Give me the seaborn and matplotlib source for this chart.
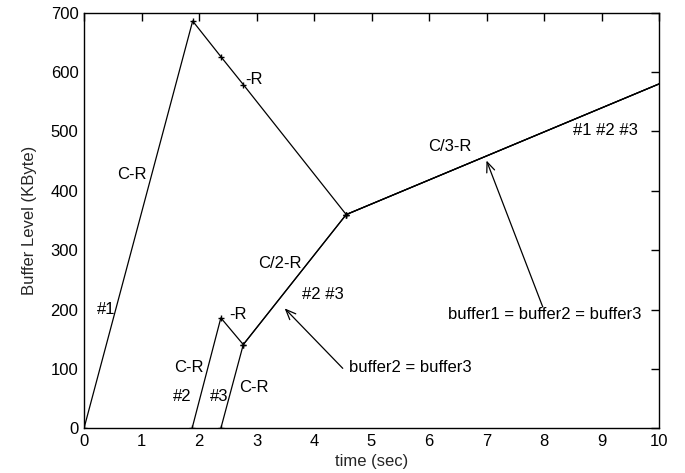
import matplotlib
matplotlib.use("Agg")
import matplotlib.pyplot as plt
import seaborn as sns
import pandas as pd

# ---- data ----
t1 = [0.0, 1.89, 2.38, 2.77, 4.56, 10.0]
b1 = [0, 686, 626, 579, 360, 580]
t2 = [1.88, 2.38, 2.77, 4.56, 10.0]
b2 = [0, 186, 141, 360, 580]
t3 = [2.38, 2.77, 4.56, 10.0]
b3 = [0, 141, 360, 580]

x_ticks = [0, 1, 2, 3, 4, 5, 6, 7, 8, 9, 10]
y_ticks = [0, 100, 200, 300, 400, 500, 600, 700]

labels_text = ["C-R", "#1", "-R", "C/2-R", "#2 #3", "-R", "C-R", "#2", "#3",
               "C-R", "buffer2 = buffer3", "buffer1 = buffer2 = buffer3",
               "C/3-R", "#1 #2 #3"]
labels_x = [0.57, 0.23, 2.80, 3.03, 3.80, 2.52, 1.56, 1.54, 2.19,
            2.69, 4.61, 6.33, 5.99, 8.51]
labels_y = [427, 200, 587, 278, 226, 192, 103, 53, 53,
            68, 103, 192, 474, 501]

arrow_tail_x = [4.50, 7.98]
arrow_tail_y = [101, 204]
arrow_tip_x = [3.49, 7.00]
arrow_tip_y = [202, 451]

sns.set_theme(style="white")
plt.rcParams['font.family'] = ['Liberation Sans', 'DejaVu Sans']

fig = plt.figure(figsize=(6.85, 4.73), dpi=100)
ax = fig.add_axes([84 / 685, 1 - 428.3 / 473, (659 - 84) / 685, (428.3 - 12.7) / 473])

df = pd.concat([
    pd.DataFrame({"t": t1, "b": b1, "buf": "1"}),
    pd.DataFrame({"t": t2, "b": b2, "buf": "2"}),
    pd.DataFrame({"t": t3, "b": b3, "buf": "3"}),
])
for name, g in df.groupby("buf"):
    n = len(g)
    sns.lineplot(data=g, x="t", y="b", ax=ax, sort=False, color="black",
                 linewidth=0.9, marker="+", markersize=5, markeredgewidth=1.0,
                 markeredgecolor="black", markerfacecolor="black",
                 markevery=list(range(n - 1)),
                 estimator=None, legend=False)

for s, x, y in zip(labels_text, labels_x, labels_y):
    ax.text(x, y, s, fontsize=12, ha="left", va="center", color="black")

for tx, ty, hx, hy in zip(arrow_tail_x, arrow_tail_y, arrow_tip_x, arrow_tip_y):
    ax.annotate("", xy=(hx, hy), xytext=(tx, ty),
                arrowprops=dict(arrowstyle="->,head_length=0.6,head_width=0.25",
                                color="black", lw=0.9, shrinkA=0, shrinkB=0))

ax.set_xlim(0, 10)
ax.set_ylim(0, 700)
ax.set_xticks(x_ticks)
ax.set_yticks(y_ticks)
ax.set_xlabel("time (sec)", fontsize=12, labelpad=4)
ax.set_ylabel("Buffer Level (KByte)", fontsize=12, labelpad=10)
ax.tick_params(direction="in", length=6, width=1, top=True, right=True,
               labelsize=12, colors="black", pad=4)
for sp in ax.spines.values():
    sp.set_visible(True)
    sp.set_color("black")
    sp.set_linewidth(1.0)
ax.grid(False)

fig.savefig("out.png", dpi=100)
